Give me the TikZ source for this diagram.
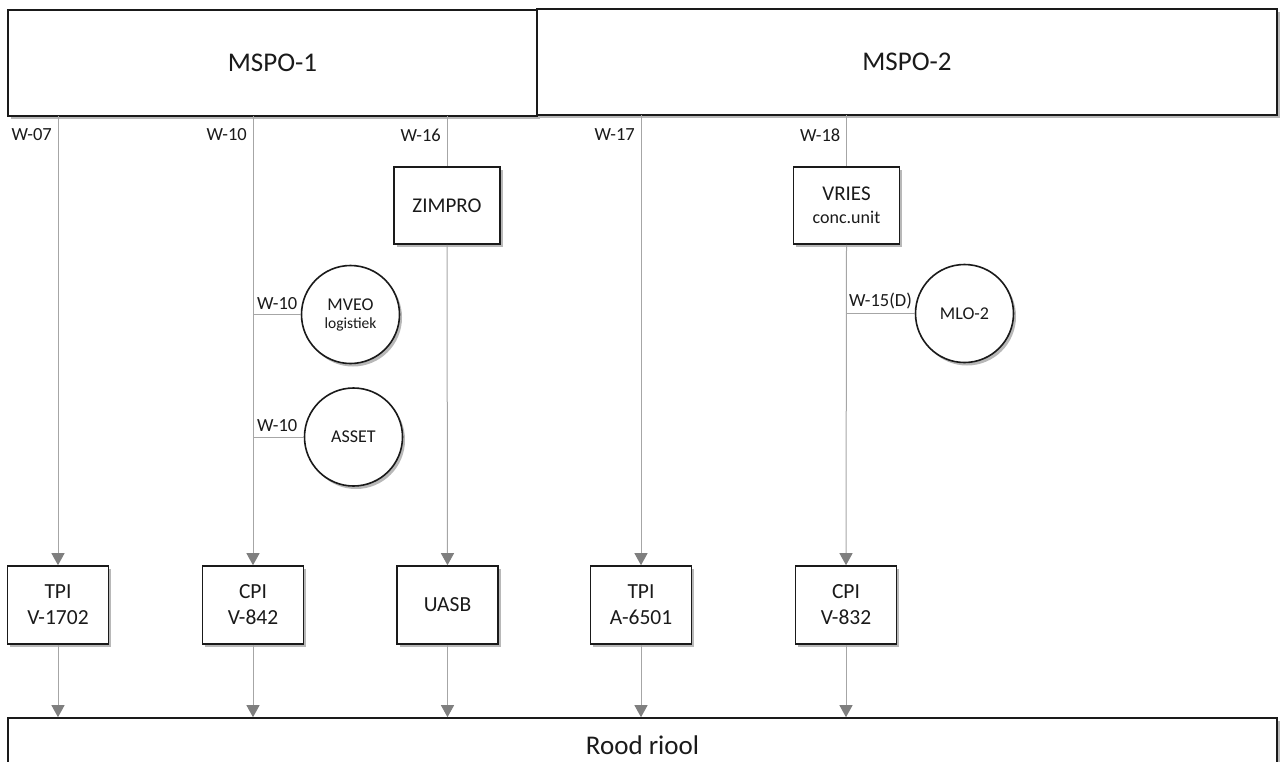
\documentclass[tikz,border=0pt]{standalone}
\usepackage{fontspec}
\setmainfont{Carlito}
\usetikzlibrary{arrows.meta,shadows}
\definecolor{linegray}{HTML}{A6A6A6}
\definecolor{tipgray}{HTML}{7F7F7F}
\definecolor{ink}{HTML}{1A1A1A}
\tikzset{
  shade/.style={drop shadow={shadow xshift=2.5pt,shadow yshift=-3pt,opacity=0.35,fill=black!80}},
  unit/.style={draw=ink,line width=1.6pt,fill=white,shade,rectangle,align=center,text=ink,inner sep=0pt},
  bigbox/.style={unit,font=\fontsize{27}{32}\selectfont},
  procbox/.style={unit,minimum width=106pt,minimum height=77pt,font=\fontsize{21}{25}\selectfont},
  endbox/.style={unit,minimum width=101pt,minimum height=78pt,font=\fontsize{21.5}{26}\selectfont},
  rnd/.style={draw=ink,line width=1.6pt,fill=white,shade,circle,minimum size=98pt,inner sep=0pt,align=center,text=ink,font=\fontsize{18}{21}\selectfont},
  pipe/.style={draw=linegray,line width=1pt},
  flow/.style={pipe,-{Triangle[width=13pt,length=12pt,color=tipgray]}},
  wlab/.style={text=ink,font=\fontsize{18.5}{21}\selectfont,inner sep=0pt},
}
\begin{document}
\begin{tikzpicture}[x=1pt,y=-1pt]
\useasboundingbox (0,0) rectangle (1280,761);

% plants on top
\node[bigbox,minimum width=529pt,minimum height=106pt] (mspo1) at (272.5,63) {MSPO-1};
\node[bigbox,minimum width=740pt,minimum height=106pt] (mspo2) at (907,62) {MSPO-2};

% outlet points on the plant boxes
\coordinate (o07) at (58,116);
\coordinate (o10) at (253,116);
\coordinate (o16) at (447,116);
\coordinate (o17) at (641,115);
\coordinate (o18) at (846.5,115);

% intermediate treatment
\node[procbox] (zimpro) at (447,205.5) {ZIMPRO};
\node[procbox] (vries) at (846.5,205.5) {VRIES\\[-2pt]{\fontsize{18}{21}\selectfont conc.unit}};

% side users
\node[rnd] (mveo) at (350.5,314.5) {MVEO\\[-3pt]{\fontsize{15.5}{18}\selectfont logistiek}};
\node[rnd] (asset) at (353.5,437) {ASSET};
\node[rnd] (mlo) at (964.5,313.5) {MLO-2};

% receiving units
\node[endbox] (tpi1702) at (58,605) {TPI\\V-1702};
\node[endbox] (cpi842) at (253,605) {CPI\\V-842};
\node[endbox] (uasb) at (447.5,605) {UASB};
\node[endbox] (tpi6501) at (641,605) {TPI\\A-6501};
\node[endbox] (cpi832) at (846,605) {CPI\\V-832};

% sewer (its lower edge runs off the page)
\node[unit,minimum width=1269pt,minimum height=70pt] (riool) at (642.5,753) {};
\node[text=ink,font=\fontsize{27}{32}\selectfont] (rioollab) at (642.5,745) {Rood riool};

% branch points
\coordinate (b1) at (253,314.5);
\coordinate (b2) at (253,437);
\coordinate (b3) at (846.5,313.5);

% lines from the plants
\draw[flow] (o07) -- (tpi1702.north);
\draw[flow] (o10) -- (cpi842.north);
\draw[pipe] (o16) -- (zimpro.north);
\draw[flow] (zimpro.south) -- (uasb.north);
\draw[flow] (o17) -- (tpi6501.north);
\draw[pipe] (o18) -- (vries.north);
\draw[flow] (vries.south) -- (cpi832.north);
\draw[pipe] (b1) -- (mveo.west);
\draw[pipe] (b2) -- (asset.west);
\draw[pipe] (b3) -- (mlo.west);

% discharge to the sewer
\foreach \u in {tpi1702,cpi842,uasb,tpi6501,cpi832}
  \draw[flow] (\u.south) -- (\u.south |- riool.north);

% line labels
\node[wlab,anchor=east] (l07) at (52,135) {W-07};
\node[wlab,anchor=east] (l10) at (247,135) {W-10};
\node[wlab,anchor=east] (l16) at (441,135) {W-16};
\node[wlab,anchor=east] (l17) at (635,135) {W-17};
\node[wlab,anchor=east] (l18) at (840.5,135) {W-18};
\node[wlab,anchor=south west] (l10a) at (257,310) {W-10};
\node[wlab,anchor=south west] (l10b) at (257,432) {W-10};
\node[wlab,anchor=south west] (l15) at (849,309) {W-15(D)};
\end{tikzpicture}
\end{document}
